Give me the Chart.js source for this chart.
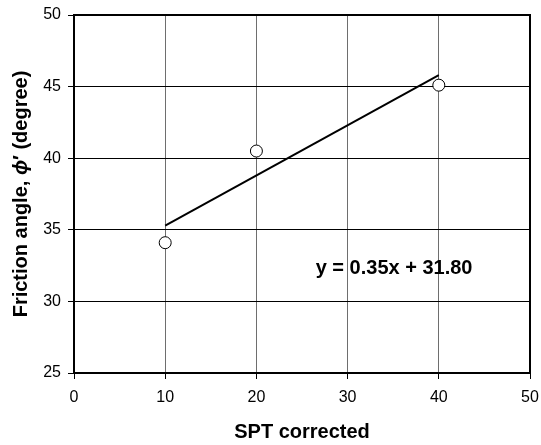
<!DOCTYPE html>
<html>
<head>
<meta charset="utf-8">
<script src="https://cdn.jsdelivr.net/npm/chart.js@4"></script>
<style>
  html, body { margin: 0; padding: 0; background: #fff; }
</style>
</head>
<body>
<canvas id="friction-chart" width="541" height="445"></canvas>
<script>
// measured points
const sptValues = [10, 20, 40];
const frictionValues = [34.1, 40.5, 45.1];

// axis ranges / ticks
const xTicks = [0, 10, 20, 30, 40, 50];
const yTicks = [25, 30, 35, 40, 45, 50];

// linear fit y = a*x + b, drawn over the measured range
const fitSlope = 0.35;
const fitIntercept = 31.80;
const fitRange = [10, 40];

const xTitle = 'SPT corrected';
const yTitleParts = ['Friction angle, ', 'ϕ', '′ (degree)'];

const FONT = '"Liberation Sans", Arial, sans-serif';
Chart.defaults.font.family = FONT;
Chart.defaults.color = '#000';

let pointData = sptValues.map((x, i) => ({ x: x, y: frictionValues[i] }));
let fitData = fitRange.map(x => ({ x: x, y: fitSlope * x + fitIntercept }));
let fitLabel = 'y = ' + fitSlope.toFixed(2) + 'x + ' + fitIntercept.toFixed(2);

// frame round the plot, the equation and the rotated y title
const decorations = {
    id: 'decorations',
    beforeDatasetsDraw(chart) {
        const { ctx, chartArea: a } = chart;
        ctx.save();
        ctx.strokeStyle = '#000';
        ctx.lineWidth = 2;
        ctx.strokeRect(a.left, a.top, a.right - a.left, a.bottom - a.top);
        ctx.restore();
    },
    afterDraw(chart) {
        const { ctx, chartArea: a, scales } = chart;
        ctx.save();
        ctx.fillStyle = '#000';
        ctx.font = 'bold 20px ' + FONT;
        ctx.textBaseline = 'middle';
        ctx.textAlign = 'left';
        ctx.fillText(fitLabel, scales.x.getPixelForValue(26.5), scales.y.getPixelForValue(32.3));

        let fonts = ['bold 20px ' + FONT, 'italic bold 20px ' + FONT + ', "DejaVu Sans"', 'bold 20px ' + FONT];
        let widths = yTitleParts.map((t, i) => { ctx.font = fonts[i]; return ctx.measureText(t).width; });
        let total = widths.reduce((s, w) => s + w, 0);
        ctx.translate(21, (a.top + a.bottom) / 2);
        ctx.rotate(-Math.PI / 2);
        let x = -total / 2;
        yTitleParts.forEach((t, i) => {
            ctx.font = fonts[i];
            ctx.fillText(t, x, 0);
            x += widths[i];
        });
        ctx.restore();
    }
};

const ctx = document.getElementById('friction-chart').getContext('2d');
const chart = new Chart(ctx, {
    type: 'scatter',
    data: {
        datasets: [{
            data: pointData,
            pointRadius: 6,
            pointBorderWidth: 1,
            pointBackgroundColor: '#fff',
            pointBorderColor: '#000',
        }, {
            type: 'line',
            data: fitData,
            borderColor: '#000',
            borderWidth: 2,
            pointRadius: 0,
            fill: false,
        }]
    },
    options: {
        responsive: false,
        animation: false,
        devicePixelRatio: 1,
        layout: { padding: { top: 15, right: 11, left: 0, bottom: 0 } },
        plugins: {
            legend: { display: false },
            tooltip: { enabled: false },
        },
        scales: {
            x: {
                type: 'linear',
                min: xTicks[0],
                max: xTicks[xTicks.length - 1],
                afterBuildTicks: (scale) => { scale.ticks = xTicks.map(v => ({ value: v })); },
                afterFit: (scale) => {
                    scale.height = 72;
                    scale.paddingLeft = 0;
                    scale.paddingRight = 0;
                },
                ticks: { font: { size: 16 }, color: '#000', padding: 9 },
                grid: { color: '#6e6e6e', lineWidth: 1, tickColor: '#000', tickLength: 6 },
                border: { display: false },
                title: {
                    display: true,
                    text: xTitle,
                    font: { size: 20, weight: 'bold' },
                    color: '#000',
                    padding: { top: 0, bottom: 1 },
                },
            },
            y: {
                min: yTicks[0],
                max: yTicks[yTicks.length - 1],
                afterBuildTicks: (scale) => { scale.ticks = yTicks.map(v => ({ value: v })); },
                afterFit: (scale) => {
                    scale.width = 74;
                    scale.paddingTop = 0;
                    scale.paddingBottom = 0;
                },
                ticks: { font: { size: 16 }, color: '#000', padding: 7 },
                grid: { color: '#000', lineWidth: 1, tickColor: '#000', tickLength: 6 },
                border: { display: false },
            }
        }
    },
    plugins: [decorations]
});
</script>
</body>
</html>
